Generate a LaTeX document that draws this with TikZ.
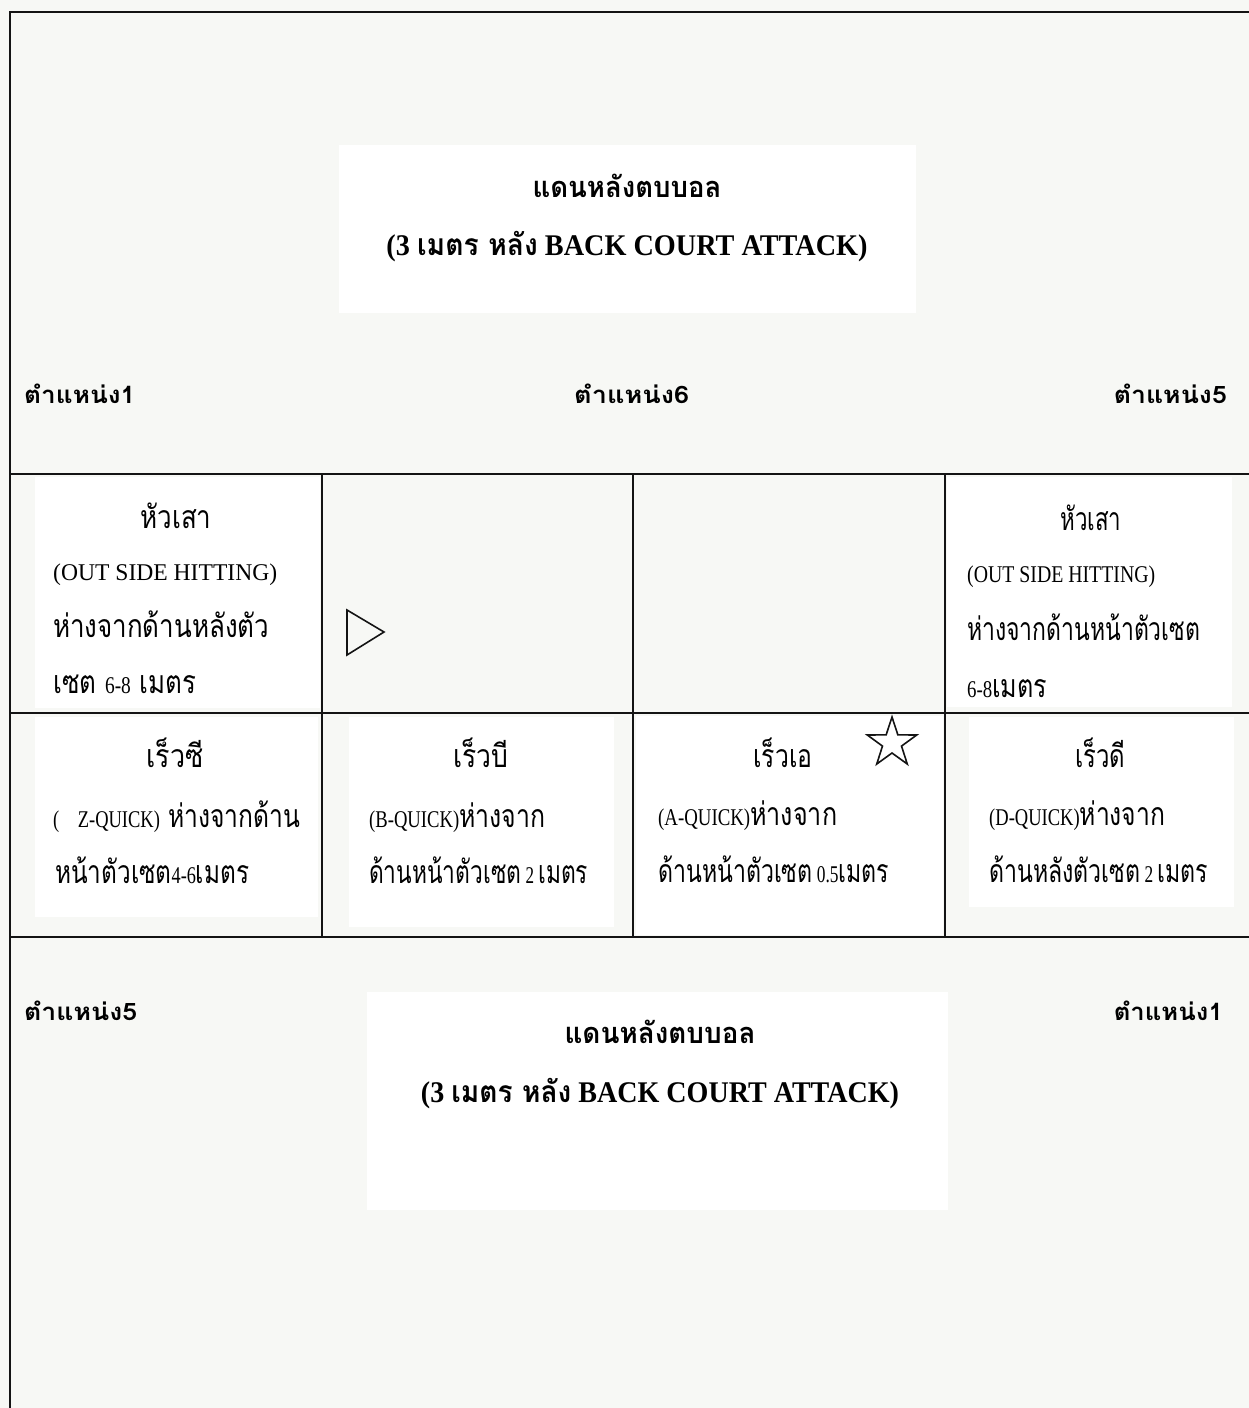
\documentclass[tikz,border=0pt]{standalone}
\usepackage{fontspec}
\usepackage{graphicx}
\setmainfont{Liberation Serif}
\newfontfamily\thf[Script=Thai]{Loma}
\newcommand\T[1]{{\thf #1}}
\newcommand\Lt[1]{{\rmfamily\fontsize{24}{26}\selectfont #1}}
\newcommand\fw[2]{\resizebox{#1pt}{\height}{#2}}
\definecolor{paper}{RGB}{247,248,245}
\definecolor{ink}{RGB}{20,20,20}
\begin{document}
\begin{tikzpicture}[x=1pt,y=-1pt,
  gridline/.style={draw=ink,line width=2.6pt},
  ttlbox/.style={inner sep=0pt,font=\bfseries\fontsize{30}{34}\selectfont},
  ttlth/.style={inner sep=0pt,font=\thf\bfseries\fontsize{29}{32}\selectfont},
  poslbl/.style={inner sep=0pt,font=\thf\bfseries\fontsize{24}{28}\selectfont},
  celltxt/.style={inner sep=0pt,font=\thf\fontsize{32}{36}\selectfont},
  shapeline/.style={draw=ink,line width=1.6pt,line join=miter}]
\useasboundingbox (0,0) rectangle (1249,1408);
\fill[paper] (0,0) rectangle (1249,1408);
% white patches behind texts
\fill[white] (339,145) rectangle (916,313);
\fill[white] (367,992) rectangle (948,1210);
\fill[white] (35,477) rectangle (320,708);
\fill[white] (947,477) rectangle (1232,707);
\fill[white] (35,717) rectangle (318,917);
\fill[white] (349,717) rectangle (614,927);
\fill[white] (636,716) rectangle (943,935);
\fill[white] (969,717) rectangle (1234,907);
% grid coordinates
\coordinate (TL) at (10,12);
\coordinate (TR) at (1249,12);
\coordinate (BL) at (10,1408);
\coordinate (h0l) at (10,474);  \coordinate (h0r) at (1249,474);
\coordinate (h1l) at (10,713);  \coordinate (h1r) at (1249,713);
\coordinate (h2l) at (10,937);  \coordinate (h2r) at (1249,937);
\coordinate (v1t) at (322,474); \coordinate (v1b) at (322,937);
\coordinate (v2t) at (633,474); \coordinate (v2b) at (633,937);
\coordinate (v3t) at (945,474); \coordinate (v3b) at (945,937);
\draw[gridline] (BL) -- (TL) -- (TR);
\draw[gridline] (h0l) -- (h0r);
\draw[gridline] (h1l) -- (h1r);
\draw[gridline] (h2l) -- (h2r);
\draw[gridline] (v1t) -- (v1b);
\draw[gridline] (v2t) -- (v2b);
\draw[gridline] (v3t) -- (v3b);
% titles
\node[ttlth,anchor=base] (t1) at (627,197) {\fw{189}{แดนหลังตบบอล}};
\node[ttlbox,anchor=base] (t2) at (627,255) {\fw{481}{(3 \T{เมตร หลัง} BACK COURT ATTACK)}};
\node[ttlth,anchor=base] (b1) at (660,1043) {\fw{191}{แดนหลังตบบอล}};
\node[ttlbox,anchor=base] (b2) at (660,1102) {\fw{478}{(3 \T{เมตร หลัง} BACK COURT ATTACK)}};
% position labels
\node[poslbl,anchor=base west] (p1) at (24,403) {\fw{111}{ตำแหน่ง1}};
\node[poslbl,anchor=base west] (p6) at (574,403) {\fw{115}{ตำแหน่ง6}};
\node[poslbl,anchor=base east] (p5) at (1227,403) {\fw{113}{ตำแหน่ง5}};
\node[poslbl,anchor=base west] (q5) at (24,1020) {\fw{113}{ตำแหน่ง5}};
\node[poslbl,anchor=base east] (q1) at (1223,1020) {\fw{109}{ตำแหน่ง1}};
% cell 0,0
\node[celltxt,anchor=base] (a1) at (176,528) {\fw{71}{หัวเสา}};
\node[celltxt,anchor=base west] (a2) at (53,580) {\fw{224}{\Lt{(OUT SIDE HITTING)}}};
\node[celltxt,anchor=base west] (a3) at (53,637) {\fw{216}{ห่างจากด้านหลังตัว}};
\node[celltxt,anchor=base west] (a4) at (53,693) {\fw{143}{เซต \Lt{6-8} เมตร}};
% cell 0,3
\node[celltxt,anchor=base] (d1) at (1091,530) {\fw{61}{หัวเสา}};
\node[celltxt,anchor=base west] (d2) at (967,582) {\fw{188}{\Lt{(OUT SIDE HITTING)}}};
\node[celltxt,anchor=base west] (d3) at (967,640) {\fw{233}{ห่างจากด้านหน้าตัวเซต}};
\node[celltxt,anchor=base west] (d4) at (967,697) {\fw{80}{\Lt{6-8}เมตร}};
% cell 1,0
\node[celltxt,anchor=base] (e1) at (175,767) {\fw{57}{เร็วซี}};
\node[celltxt,anchor=base west] (e2) at (53,827) {\fw{247}{\Lt{(\quad Z-QUICK)} ห่างจากด้าน}};
\node[celltxt,anchor=base west] (e3) at (55,883) {\fw{194}{หน้าตัวเซต\Lt{4-6}เมตร}};
% cell 1,1
\node[celltxt,anchor=base] (f1) at (481,767) {\fw{55}{เร็วบี}};
\node[celltxt,anchor=base west] (f2) at (369,827) {\fw{176}{\Lt{(B-QUICK)}ห่างจาก}};
\node[celltxt,anchor=base west] (f3) at (369,883) {\fw{219}{ด้านหน้าตัวเซต\Lt{ 2 }เมตร}};
% cell 1,2
\node[celltxt,anchor=base] (g1) at (783,767) {\fw{59}{เร็วเอ}};
\node[celltxt,anchor=base west] (g2) at (658,825) {\fw{179}{\Lt{(A-QUICK)}ห่างจาก}};
\node[celltxt,anchor=base west] (g3) at (658,882) {\fw{231}{ด้านหน้าตัวเซต\Lt{ 0.5}เมตร}};
% cell 1,3
\node[celltxt,anchor=base] (k1) at (1100,767) {\fw{50}{เร็วดี}};
\node[celltxt,anchor=base west] (k2) at (989,825) {\fw{176}{\Lt{(D-QUICK)}ห่างจาก}};
\node[celltxt,anchor=base west] (k3) at (989,882) {\fw{219}{ด้านหลังตัวเซต\Lt{ 2 }เมตร}};
% triangle and star
\draw[shapeline] (347,610) -- (384,632) -- (347,655) -- cycle;
\draw[shapeline,shift={(892,743)}] (-90:26) -- (-54:10) -- (-18:26) -- (18:10) -- (54:26) -- (90:10) -- (126:26) -- (162:10) -- (198:26) -- (234:10) -- cycle;
\end{tikzpicture}
\end{document}
